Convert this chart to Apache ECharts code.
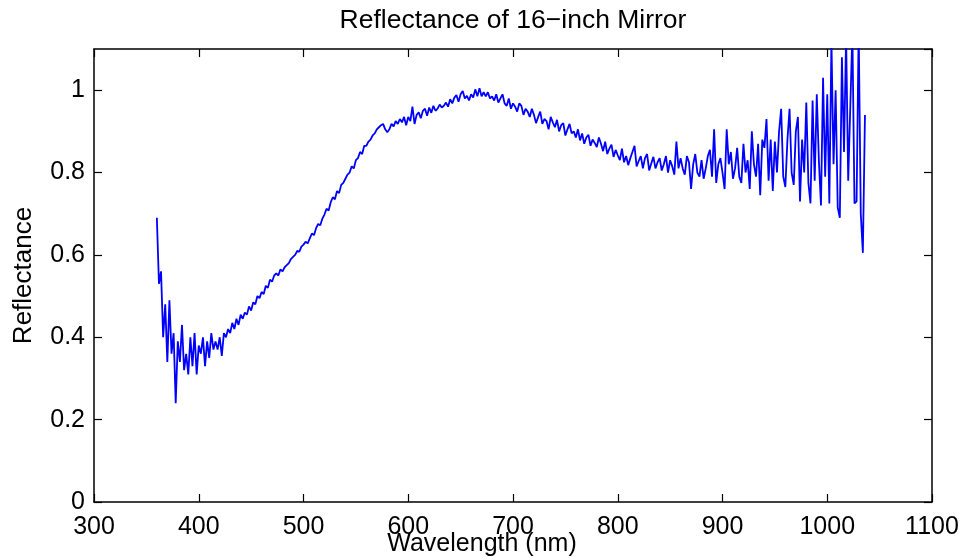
<!DOCTYPE html>
<html>
<head>
<meta charset="utf-8">
<script src="https://cdn.jsdelivr.net/npm/echarts@6/dist/echarts.min.js"></script>
<style>
  html, body { margin: 0; padding: 0; background: #fff; }
  #chart { width: 966px; height: 558px; }
</style>
</head>
<body>
<div id="chart"></div>
<script>
// Spectrometer sampling grid: first wavelength and spacing, in nm
const waveStart = 360;
const waveStep = 2;

// Measured reflectance, one value per sample (20 nm per row)
const reflectance = [
  0.69, 0.53, 0.56, 0.40, 0.48, 0.34, 0.49, 0.36, 0.41, 0.24,
  0.39, 0.34, 0.43, 0.32, 0.36, 0.31, 0.40, 0.33, 0.41, 0.31,
  0.38, 0.36, 0.40, 0.33, 0.39, 0.35, 0.41, 0.37, 0.39, 0.37,
  0.40, 0.355, 0.41, 0.40, 0.42, 0.41, 0.435, 0.42, 0.445, 0.43,
  0.455, 0.445, 0.46, 0.455, 0.475, 0.465, 0.485, 0.48, 0.50, 0.495,
  0.51, 0.505, 0.525, 0.52, 0.54, 0.535, 0.55, 0.555, 0.55, 0.565,
  0.56, 0.57, 0.575, 0.58, 0.59, 0.595, 0.60, 0.61, 0.608, 0.62,
  0.625, 0.632, 0.628, 0.64, 0.652, 0.648, 0.665, 0.675, 0.672, 0.688,
  0.698, 0.712, 0.708, 0.728, 0.74, 0.735, 0.755, 0.75, 0.77, 0.775,
  0.785, 0.795, 0.80, 0.815, 0.81, 0.83, 0.835, 0.85, 0.845, 0.865,
  0.865, 0.875, 0.88, 0.89, 0.895, 0.905, 0.91, 0.915, 0.918, 0.905,
  0.898, 0.905, 0.918, 0.912, 0.925, 0.918, 0.93, 0.922, 0.935, 0.915,
  0.935, 0.925, 0.96, 0.918, 0.94, 0.946, 0.932, 0.95, 0.955, 0.938,
  0.958, 0.945, 0.962, 0.95, 0.955, 0.965, 0.958, 0.962, 0.97, 0.96,
  0.978, 0.968, 0.982, 0.988, 0.972, 0.99, 0.998, 0.98, 0.986, 0.975,
  0.99, 0.982, 1.002, 0.985, 1.005, 0.985, 0.995, 0.985, 0.995, 0.98,
  0.985, 0.975, 0.99, 0.97, 0.98, 0.99, 0.968, 0.962, 0.98, 0.955,
  0.968, 0.96, 0.948, 0.968, 0.962, 0.94, 0.955, 0.948, 0.935, 0.955,
  0.94, 0.92, 0.935, 0.948, 0.918, 0.93, 0.925, 0.905, 0.935, 0.922,
  0.91, 0.928, 0.90, 0.915, 0.92, 0.89, 0.905, 0.918, 0.895, 0.90,
  0.885, 0.905, 0.878, 0.895, 0.87, 0.885, 0.892, 0.865, 0.88, 0.872,
  0.862, 0.885, 0.87, 0.852, 0.875, 0.845, 0.858, 0.868, 0.838, 0.855,
  0.842, 0.83, 0.858, 0.825, 0.84, 0.818, 0.835, 0.85, 0.865, 0.815,
  0.828, 0.84, 0.81, 0.835, 0.845, 0.805, 0.822, 0.838, 0.81, 0.825,
  0.835, 0.805, 0.82, 0.84, 0.80, 0.83, 0.815, 0.795, 0.875, 0.81,
  0.835, 0.81, 0.795, 0.84, 0.825, 0.76, 0.82, 0.845, 0.80, 0.79,
  0.83, 0.785, 0.81, 0.84, 0.855, 0.79, 0.905, 0.775, 0.82, 0.835,
  0.80, 0.76, 0.905, 0.82, 0.85, 0.785, 0.81, 0.86, 0.79, 0.775,
  0.87, 0.80, 0.83, 0.76, 0.90, 0.82, 0.79, 0.87, 0.745, 0.88,
  0.86, 0.93, 0.78, 0.88, 0.755, 0.875, 0.80, 0.90, 0.955, 0.79,
  0.765, 0.88, 0.955, 0.80, 0.77, 0.90, 0.935, 0.73, 0.88, 0.80,
  0.97, 0.775, 0.725, 0.975, 0.78, 0.99, 0.83, 0.72, 1.03, 0.79,
  0.99, 0.725, 1.12, 0.82, 1.00, 0.715, 0.69, 1.08, 0.85, 1.13,
  0.78, 0.96, 1.14, 0.725, 0.73, 1.15, 0.70, 0.605, 0.94
];

// Axis ranges and tick spacing
const xRange = [300, 1100];
const xTickStep = 100;
const yRange = [0, 1.1];
const yTickStep = 0.2;

const titleText = 'Reflectance of 16\u2212inch Mirror';
const xName = 'Wavelength (nm)';
const yName = 'Reflectance';

const points = reflectance.map((v, i) => [waveStart + i * waveStep, v]);

const font = 'Liberation Sans, Arial, Helvetica, sans-serif';
const boxLine = { show: true, onZero: false, lineStyle: { color: '#000', width: 1.5 } };
const innerTick = { show: true, inside: true, length: 8, lineStyle: { color: '#000', width: 1.2 } };

const chart = echarts.init(document.getElementById('chart'), null, { renderer: 'canvas' });
chart.setOption({
  animation: false,
  backgroundColor: '#fff',
  title: {
    text: titleText,
    left: 508,
    textAlign: 'center',
    top: 2,
    textStyle: { fontFamily: font, fontSize: 26.5, fontWeight: 'normal', color: '#000' }
  },
  grid: { left: 94, right: 34, top: 49, bottom: 56, containLabel: false, outerBoundsMode: 'none' },
  xAxis: [
    {
      type: 'value', position: 'bottom',
      min: xRange[0], max: xRange[1], interval: xTickStep,
      name: xName, nameLocation: 'middle', nameGap: 30, nameMoveOverlap: false,
      nameTextStyle: { fontFamily: font, fontSize: 25, color: '#000', padding: [0, 62, 0, 0] },
      axisLine: boxLine, axisTick: innerTick,
      axisLabel: { fontFamily: font, fontSize: 25, color: '#000', margin: 13, formatter: v => String(v) },
      splitLine: { show: false }
    },
    {
      type: 'value', position: 'top',
      min: xRange[0], max: xRange[1], interval: xTickStep,
      axisLine: boxLine, axisTick: innerTick,
      axisLabel: { show: false }, splitLine: { show: false }
    }
  ],
  yAxis: [
    {
      type: 'value', position: 'left',
      min: yRange[0], max: yRange[1], interval: yTickStep,
      name: yName, nameLocation: 'middle', nameGap: 57, nameRotate: 90, nameMoveOverlap: false,
      nameTextStyle: { fontFamily: font, fontSize: 26, color: '#000' },
      axisLine: boxLine, axisTick: innerTick,
      axisLabel: {
        fontFamily: font, fontSize: 25, color: '#000', margin: 9,
        showMaxLabel: false,
        formatter: v => String(+v.toFixed(2))
      },
      splitLine: { show: false }
    },
    {
      type: 'value', position: 'right',
      min: yRange[0], max: yRange[1], interval: yTickStep,
      axisLine: boxLine, axisTick: innerTick,
      axisLabel: { show: false }, splitLine: { show: false }
    }
  ],
  series: [
    {
      type: 'line',
      data: points,
      xAxisIndex: 0,
      yAxisIndex: 0,
      showSymbol: false,
      symbol: 'none',
      clip: true,
      lineStyle: { color: '#0000ff', width: 1.8 },
      emphasis: { disabled: true }
    }
  ]
});
</script>
</body>
</html>
